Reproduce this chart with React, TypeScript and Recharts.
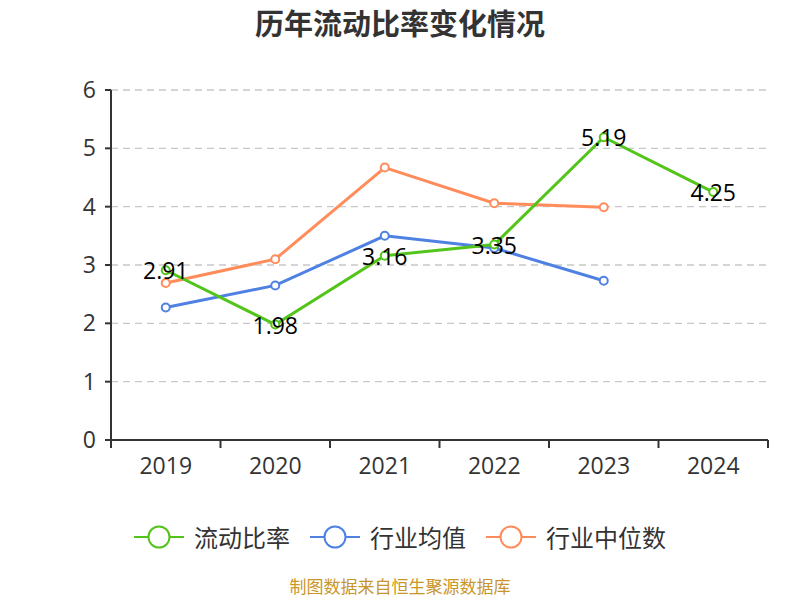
import { LineChart, Line, XAxis, YAxis, CartesianGrid, LabelList } from 'recharts'

const years = ['2019', '2020', '2021', '2022', '2023', '2024']
const currentRatio = [2.91, 1.98, 3.16, 3.35, 5.19, 4.25]
const industryAvg = [2.27, 2.65, 3.5, 3.29, 2.73, null]
const industryMedian = [2.69, 3.1, 4.67, 4.06, 3.99, null]
const yTicks = [0, 1, 2, 3, 4, 5, 6]

const seriesList = [
  { key: 'ratio', name: '流动比率', color: '#52c41a' },
  { key: 'avg', name: '行业均值', color: '#4f81e3' },
  { key: 'median', name: '行业中位数', color: '#ff8c5a' },
]

const data = years.map((year, i) => ({
  year,
  ratio: currentRatio[i],
  avg: industryAvg[i],
  median: industryMedian[i],
}))

const font = '"Noto Sans CJK SC", "Noto Sans", sans-serif'
const numFont = '"Open Sans", "Noto Sans", sans-serif'

const PointLabel = (props: any) => {
  const { x, y, value } = props
  if (value == null) return null
  return (
    <text x={x} y={y} textAnchor="middle" dominantBaseline="central" fontSize={23} fill="#000" fontFamily={numFont}>
      {value}
    </text>
  )
}

// year label centred in its band, tick marks on the band edges
const YearTick = (props: any) => {
  const { x, y, payload, index } = props
  const half = payload.offset || 0
  return (
    <g>
      <line x1={x - half} y1={y} x2={x - half} y2={y + 8} stroke="#333" strokeWidth={2} />
      {index === years.length - 1 && (
        <line x1={x + half} y1={y} x2={x + half} y2={y + 8} stroke="#333" strokeWidth={2} />
      )}
      <text x={x} y={y + 34} textAnchor="middle" fontSize={23} fill="#333" fontFamily={numFont}>
        {payload.value}
      </text>
    </g>
  )
}

export default function App() {
  return (
    <div style={{ position: 'absolute', left: 0, top: 0, width: 800, height: 600, background: '#fff', fontFamily: font, overflow: 'hidden' }}>
      <div style={{ position: 'absolute', top: 2, width: 800, textAlign: 'center', fontSize: 29, lineHeight: '40px', fontWeight: 'bold', color: '#333' }}>
        历年流动比率变化情况
      </div>
      <LineChart width={800} height={600} data={data} margin={{ top: 90, right: 32, bottom: 130, left: 0 }}>
        <CartesianGrid vertical={false} stroke="#c8c8c8" strokeDasharray="7 5" strokeWidth={1.3} />
        <XAxis
          dataKey="year"
          scale="band"
          stroke="#333"
          strokeWidth={2}
          tickLine={false}
          tickSize={0}
          tickMargin={0}
          height={30}
          interval={0}
          tick={<YearTick />}
        />
        <YAxis
          domain={[0, 6]}
          ticks={yTicks}
          width={111}
          stroke="#333"
          strokeWidth={2}
          tickSize={6}
          tick={{ fontSize: 23, fill: '#333', fontFamily: numFont }}
          tickMargin={9}
        />
        <Line
          dataKey="avg"
          name="行业均值"
          stroke="#4f81e3"
          strokeWidth={3}
          dot={{ r: 4, fill: '#fff', stroke: '#4f81e3', strokeWidth: 2 }}
          isAnimationActive={false}
        />
        <Line
          dataKey="median"
          name="行业中位数"
          stroke="#ff8c5a"
          strokeWidth={3}
          dot={{ r: 4, fill: '#fff', stroke: '#ff8c5a', strokeWidth: 2 }}
          isAnimationActive={false}
        />
        <Line
          dataKey="ratio"
          name="流动比率"
          stroke="#52c41a"
          strokeWidth={3}
          dot={{ r: 4, fill: '#fff', stroke: '#52c41a', strokeWidth: 2 }}
          isAnimationActive={false}
        >
          <LabelList dataKey="ratio" content={PointLabel} />
        </Line>
      </LineChart>
      <div style={{ position: 'absolute', top: 522, left: 0, width: 800, display: 'flex', justifyContent: 'center', gap: 20, fontSize: 24, lineHeight: '30px', color: '#333' }}>
        {seriesList.map((s) => (
          <div key={s.key} style={{ display: 'flex', alignItems: 'center' }}>
            <svg width={50} height={30} style={{ marginRight: 10 }}>
              <line x1={0} y1={15} x2={50} y2={15} stroke={s.color} strokeWidth={2} />
              <circle cx={25} cy={15} r={10.5} fill="#fff" stroke={s.color} strokeWidth={2} />
            </svg>
            <span>{s.name}</span>
          </div>
        ))}
      </div>
      <div style={{ position: 'absolute', top: 576, width: 800, textAlign: 'center', fontSize: 17, lineHeight: '20px', color: '#c9962a' }}>
        制图数据来自恒生聚源数据库
      </div>
    </div>
  )
}
